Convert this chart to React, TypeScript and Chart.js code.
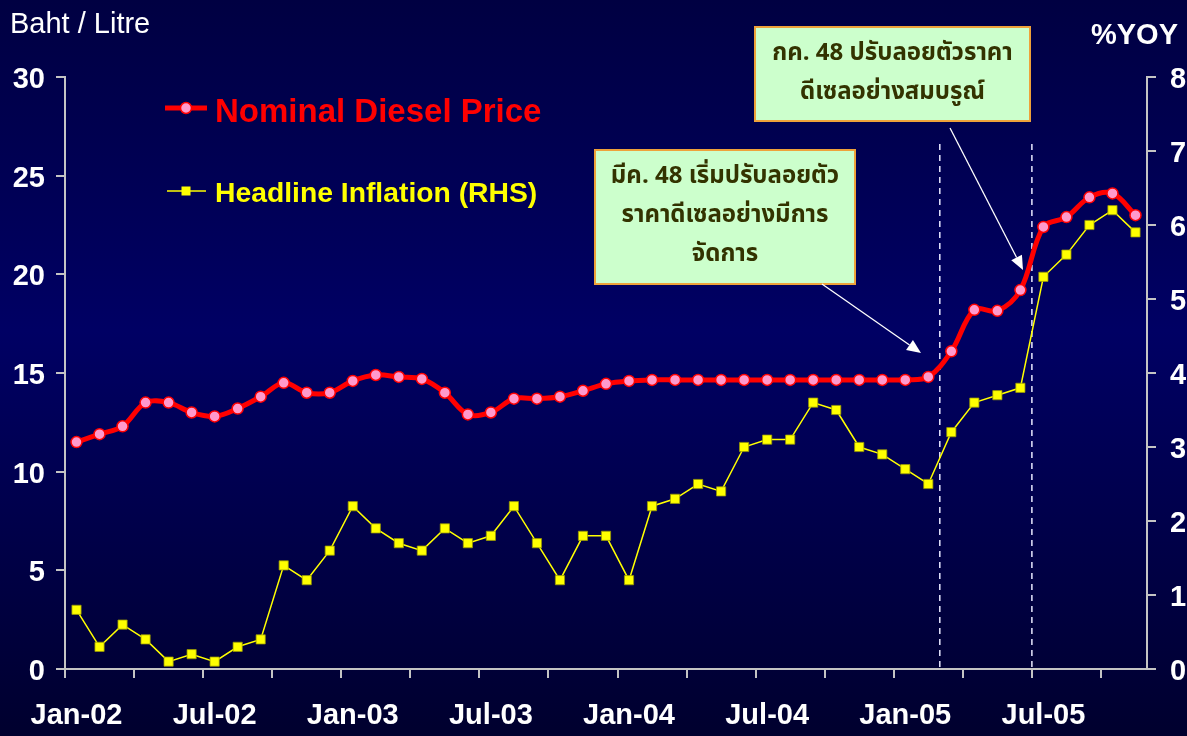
import React, { useEffect, useRef } from 'react';
import { Chart, registerables } from 'chart.js';

Chart.register(...registerables);

const months = [
  'Jan-02', 'Feb-02', 'Mar-02', 'Apr-02', 'May-02', 'Jun-02', 'Jul-02', 'Aug-02', 'Sep-02', 'Oct-02', 'Nov-02', 'Dec-02',
  'Jan-03', 'Feb-03', 'Mar-03', 'Apr-03', 'May-03', 'Jun-03', 'Jul-03', 'Aug-03', 'Sep-03', 'Oct-03', 'Nov-03', 'Dec-03',
  'Jan-04', 'Feb-04', 'Mar-04', 'Apr-04', 'May-04', 'Jun-04', 'Jul-04', 'Aug-04', 'Sep-04', 'Oct-04', 'Nov-04', 'Dec-04',
  'Jan-05', 'Feb-05', 'Mar-05', 'Apr-05', 'May-05', 'Jun-05', 'Jul-05', 'Aug-05', 'Sep-05', 'Oct-05', 'Nov-05',
];

const dieselPrice = [
  11.5, 11.9, 12.3, 13.5, 13.5, 13.0, 12.8, 13.2, 13.8, 14.5, 14.0, 14.0,
  14.6, 14.9, 14.8, 14.7, 14.0, 12.9, 13.0, 13.7, 13.7, 13.8, 14.1, 14.45,
  14.6, 14.65, 14.65, 14.65, 14.65, 14.65, 14.65, 14.65, 14.65, 14.65, 14.65, 14.65,
  14.65, 14.8, 16.1, 18.2, 18.15, 19.2, 22.4, 22.9, 23.9, 24.1, 23.0,
];

const headlineInflation = [
  0.8, 0.3, 0.6, 0.4, 0.1, 0.2, 0.1, 0.3, 0.4, 1.4, 1.2, 1.6,
  2.2, 1.9, 1.7, 1.6, 1.9, 1.7, 1.8, 2.2, 1.7, 1.2, 1.8, 1.8,
  1.2, 2.2, 2.3, 2.5, 2.4, 3.0, 3.1, 3.1, 3.6, 3.5, 3.0, 2.9,
  2.7, 2.5, 3.2, 3.6, 3.7, 3.8, 5.3, 5.6, 6.0, 6.2, 5.9,
];

const seriesNames = ['Nominal Diesel Price', 'Headline Inflation (RHS)'];
const leftTitle = 'Baht / Litre';
const rightTitle = '%YOY';
const noteMarch = ['มีค. 48 เริ่มปรับลอยตัว', 'ราคาดีเซลอย่างมีการ', 'จัดการ'];
const noteJuly = ['กค. 48 ปรับลอยตัวราคา', 'ดีเซลอย่างสมบรูณ์'];
// boundaries (between category indices) where dashed lines are drawn
const markerBoundaries = [37.5, 41.5];

const LATIN = "'Liberation Sans', Arial, sans-serif";
const THAI = "Tahoma, 'Noto Sans Thai', 'Noto Sans Thai UI', Loma, Garuda, 'Liberation Sans', sans-serif";
const AXIS_COLOR = '#c4c4c4';

function drawArrow(ctx: CanvasRenderingContext2D, x0: number, y0: number, x1: number, y1: number) {
  const ang = Math.atan2(y1 - y0, x1 - x0);
  const len = 14;
  const hw = 6;
  const bx = x1 - len * Math.cos(ang);
  const by = y1 - len * Math.sin(ang);
  ctx.save();
  ctx.strokeStyle = '#ffffff';
  ctx.fillStyle = '#ffffff';
  ctx.lineWidth = 1.3;
  ctx.beginPath();
  ctx.moveTo(x0, y0);
  ctx.lineTo(bx, by);
  ctx.stroke();
  ctx.beginPath();
  ctx.moveTo(x1, y1);
  ctx.lineTo(bx + hw * Math.sin(ang), by - hw * Math.cos(ang));
  ctx.lineTo(bx - hw * Math.sin(ang), by + hw * Math.cos(ang));
  ctx.closePath();
  ctx.fill();
  ctx.restore();
}

function drawNote(ctx: CanvasRenderingContext2D, x: number, y: number, w: number, h: number, lines: string[], firstY: number, step: number) {
  ctx.save();
  ctx.fillStyle = '#ccffcc';
  ctx.fillRect(x, y, w, h);
  ctx.strokeStyle = '#eea23a';
  ctx.lineWidth = 2;
  ctx.strokeRect(x, y, w, h);
  ctx.fillStyle = '#333300';
  ctx.font = `bold 24px ${THAI}`;
  ctx.textAlign = 'center';
  ctx.textBaseline = 'middle';
  lines.forEach((l, i) => ctx.fillText(l, x + w / 2, firstY + i * step));
  ctx.restore();
}

const bgPlugin = {
  id: 'bgGradient',
  beforeDraw(chart: any) {
    const { ctx, width, height } = chart;
    const g = ctx.createLinearGradient(0, 0, 0, height);
    g.addColorStop(0, '#000042');
    g.addColorStop(0.45, '#000064');
    g.addColorStop(1, '#00002e');
    ctx.save();
    ctx.fillStyle = g;
    ctx.fillRect(0, 0, width, height);
    ctx.restore();
  },
};

const dashedPlugin = {
  id: 'dashedMarkers',
  beforeDatasetsDraw(chart: any) {
    const { ctx, chartArea } = chart;
    const xs = chart.scales.x;
    ctx.save();
    ctx.strokeStyle = '#e8e8ff';
    ctx.lineWidth = 1.5;
    ctx.setLineDash([6, 5]);
    markerBoundaries.forEach((b) => {
      const px = (xs.getPixelForValue(Math.floor(b)) + xs.getPixelForValue(Math.ceil(b))) / 2;
      ctx.beginPath();
      ctx.moveTo(px, 144);
      ctx.lineTo(px, chartArea.bottom);
      ctx.stroke();
    });
    ctx.restore();
  },
};

const overlayPlugin = {
  id: 'overlay',
  afterDraw(chart: any) {
    const { ctx } = chart;
    ctx.save();
    // axis titles
    ctx.fillStyle = '#ffffff';
    ctx.textBaseline = 'alphabetic';
    ctx.font = `29px ${LATIN}`;
    ctx.textAlign = 'left';
    ctx.fillText(leftTitle, 10, 33);
    ctx.font = `bold 29px ${LATIN}`;
    ctx.textAlign = 'right';
    ctx.fillText(rightTitle, 1178, 44);

    // legend
    ctx.strokeStyle = '#ff0000';
    ctx.lineWidth = 5;
    ctx.beginPath();
    ctx.moveTo(165, 108);
    ctx.lineTo(207, 108);
    ctx.stroke();
    ctx.beginPath();
    ctx.arc(186, 108, 5.5, 0, Math.PI * 2);
    ctx.fillStyle = '#ff99cc';
    ctx.fill();
    ctx.lineWidth = 1.5;
    ctx.stroke();
    ctx.fillStyle = '#ff0000';
    ctx.font = `bold 33px ${LATIN}`;
    ctx.textAlign = 'left';
    ctx.fillText(seriesNames[0], 215, 122);

    ctx.strokeStyle = '#ffff00';
    ctx.lineWidth = 1.5;
    ctx.beginPath();
    ctx.moveTo(167, 191);
    ctx.lineTo(206, 191);
    ctx.stroke();
    ctx.fillStyle = '#ffff00';
    ctx.fillRect(181.5, 186.5, 9, 9);
    ctx.font = `bold 28.3px ${LATIN}`;
    ctx.fillText(seriesNames[1], 215, 202);
    ctx.restore();

    // notes and arrows
    drawNote(ctx, 755, 27, 275, 94, noteJuly, 55, 39);
    drawNote(ctx, 595, 150, 260, 134, noteMarch, 178, 39);
    drawArrow(ctx, 950, 128, 1023, 270);
    drawArrow(ctx, 822, 284, 921, 353);
  },
};

export default function App() {
  const ref = useRef<HTMLCanvasElement | null>(null);
  useEffect(() => {
    if (!ref.current) return;
    const tickFont = { family: LATIN, size: 29, weight: 'bold' as const };
    const chart = new Chart(ref.current, {
      type: 'line',
      data: {
        labels: months,
        datasets: [
          {
            label: seriesNames[0],
            data: dieselPrice,
            yAxisID: 'y',
            borderColor: '#ff0000',
            borderWidth: 5,
            tension: 0.35,
            pointRadius: 5.5,
            pointBackgroundColor: '#ff99cc',
            pointBorderColor: '#ff0000',
            pointBorderWidth: 1.5,
          },
          {
            label: seriesNames[1],
            data: headlineInflation,
            yAxisID: 'y1',
            borderColor: '#ffff00',
            borderWidth: 1.5,
            tension: 0,
            pointStyle: 'rect',
            pointRadius: 6.5,
            pointBackgroundColor: '#ffff00',
            pointBorderColor: '#9a9a00',
            pointBorderWidth: 0.75,
          },
        ],
      },
      options: {
        responsive: false,
        animation: false,
        devicePixelRatio: 1,
        layout: { padding: { top: 77, left: 0, right: 0, bottom: 0 } },
        plugins: { legend: { display: false }, tooltip: { enabled: false } },
        scales: {
          x: {
            type: 'category',
            offset: true,
            grid: {
              offset: true,
              drawOnChartArea: false,
              drawTicks: true,
              tickLength: 9,
              lineWidth: 2,
              color: (c: any) => (c.index !== undefined && c.index % 3 === 0 ? AXIS_COLOR : 'rgba(0,0,0,0)'),
            },
            border: { display: true, color: AXIS_COLOR, width: 2 },
            ticks: {
              autoSkip: false,
              maxRotation: 0,
              minRotation: 0,
              padding: 21,
              color: '#ffffff',
              font: tickFont,
              callback: (_v: any, i: number) => (i % 6 === 0 ? months[i] : ''),
            },
            afterFit: (s: any) => {
              s.height = 67;
            },
          },
          y: {
            position: 'left',
            min: 0,
            max: 30,
            grid: { drawOnChartArea: false, tickLength: 9, lineWidth: 2, color: AXIS_COLOR },
            border: { display: true, color: AXIS_COLOR, width: 2 },
            ticks: { stepSize: 5, padding: 11, labelOffset: 3, color: '#ffffff', font: tickFont },
            afterFit: (s: any) => {
              s.width = 65;
            },
          },
          y1: {
            position: 'right',
            min: 0,
            max: 8,
            grid: { drawOnChartArea: false, tickLength: 9, lineWidth: 2, color: AXIS_COLOR },
            border: { display: true, color: AXIS_COLOR, width: 2 },
            ticks: { stepSize: 1, padding: 14, labelOffset: 3, color: '#ffffff', font: tickFont },
            afterFit: (s: any) => {
              s.width = 40;
            },
          },
        },
      },
      plugins: [bgPlugin, dashedPlugin, overlayPlugin],
    });
    return () => chart.destroy();
  }, []);

  return (
    <div style={{ position: 'fixed', left: 0, top: 0, width: 1187, height: 736 }}>
      <canvas ref={ref} width={1187} height={736} style={{ display: 'block' }} />
    </div>
  );
}
